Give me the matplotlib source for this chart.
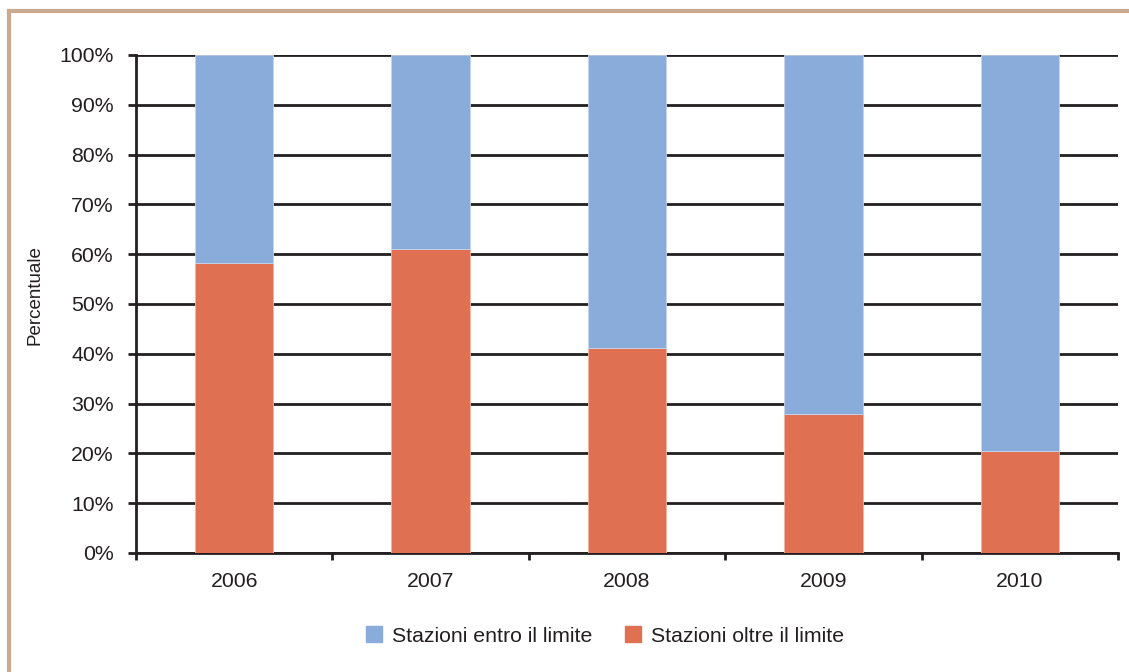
import matplotlib
matplotlib.use("Agg")
import matplotlib.pyplot as plt
import numpy as np
from matplotlib.patches import Rectangle
from matplotlib.ticker import FixedLocator

years = ["2006", "2007", "2008", "2009", "2010"]
oltre = [58.3, 61.1, 41.1, 27.9, 20.5]
entro = [100 - v for v in oltre]
series_labels = ["Stazioni entro il limite", "Stazioni oltre il limite"]
yticks = [0, 10, 20, 30, 40, 50, 60, 70, 80, 90, 100]

blue = "#89acda"
orange = "#df7152"
dark = "#231f20"

plt.rcParams['font.family'] = ['Liberation Sans', 'DejaVu Sans']

W, H = 1129, 672
fig = plt.figure(figsize=(W / 100, H / 100), dpi=100)
fig.patch.set_facecolor("white")

# frame
fig.add_artist(plt.Line2D([9 / W, 9 / W], [0, 1 - 11 / H], transform=fig.transFigure,
                          color="#c9aa90", lw=3))
fig.add_artist(plt.Line2D([9 / W, 1], [1 - 11 / H, 1 - 11 / H], transform=fig.transFigure,
                          color="#c9aa90", lw=3))

left, right, top, bottom = 136, 1118, 55, 553
ax = fig.add_axes([left / W, 1 - bottom / H, (right - left) / W, (bottom - top) / H])

x = np.arange(len(years))
w = 0.4
ax.bar(x, oltre, width=w, color=orange, edgecolor="#f2b5a0", linewidth=0.6,
       label=series_labels[1], zorder=3)
ax.bar(x, entro, width=w, bottom=oltre, color=blue, edgecolor="#c5d6ee", linewidth=0.6,
       label=series_labels[0], zorder=3)

ax.set_xlim(-0.5, len(years) - 0.5)
ax.set_ylim(0, 100)
ax.set_yticks(yticks)
ax.set_yticklabels([f"{t}%" for t in yticks])
ax.yaxis.grid(True, color=dark, lw=2, zorder=1)
ax.set_axisbelow(True)

ax.set_xticks(x)
ax.set_xticklabels(years)
ax.tick_params(axis="x", length=0, pad=14, labelsize=15.3, colors=dark)
ax.xaxis.set_minor_locator(FixedLocator(np.arange(-0.5, len(years), 1.0)))
ax.tick_params(axis="x", which="minor", length=5, width=2, color=dark, direction="out")
ax.tick_params(axis="y", length=6, width=2, color=dark, direction="out", labelsize=15.3,
               pad=10, labelcolor=dark)

for s in ["top", "right"]:
    ax.spines[s].set_visible(False)
ax.spines["left"].set_color(dark)
ax.spines["left"].set_linewidth(2)
ax.spines["bottom"].set_color(dark)
ax.spines["bottom"].set_linewidth(2)

fig.text(35 / W, 1 - 295 / H, "Percentuale", rotation=90, ha="center", va="center",
         fontsize=13.5, color=dark)

handles = [Rectangle((0, 0), 1, 1, color=blue), Rectangle((0, 0), 1, 1, color=orange)]
fig.legend(handles, series_labels, loc="center", bbox_to_anchor=(605 / W, 1 - 636 / H),
           ncol=2, frameon=False, fontsize=15.3, handlelength=0.75, handleheight=0.75,
           handletextpad=0.5, columnspacing=1.5, labelcolor=dark)

fig.savefig("out.png", dpi=100, facecolor="white")
